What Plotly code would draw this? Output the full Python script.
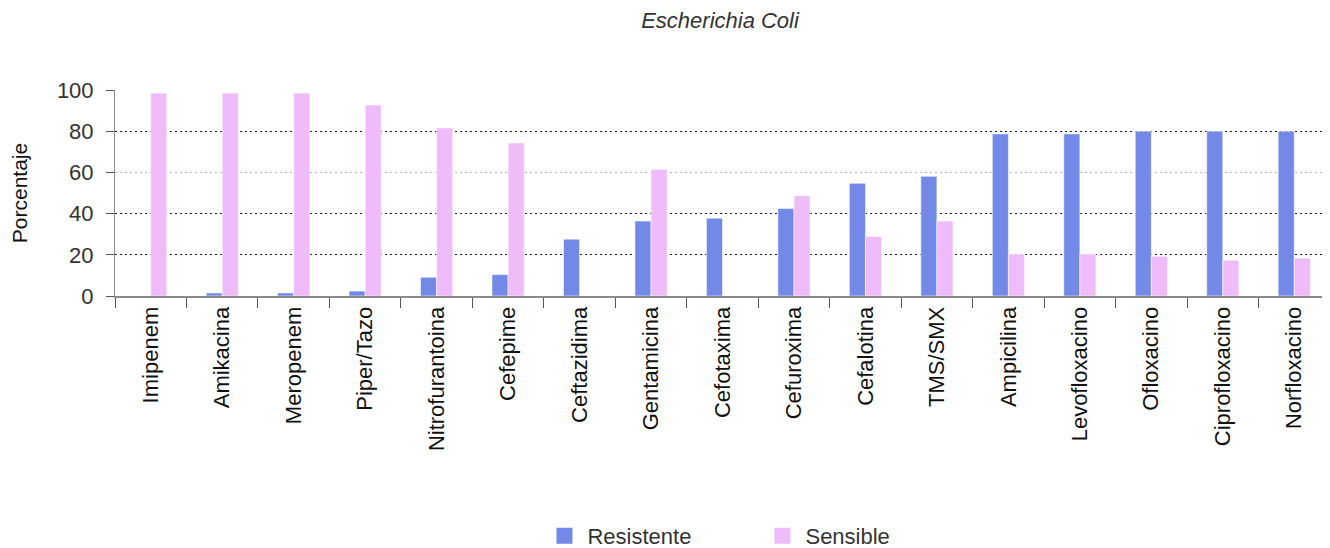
import plotly.graph_objects as go

categories = ["Imipenem", "Amikacina", "Meropenem", "Piper/Tazo", "Nitrofurantoina",
              "Cefepime", "Ceftazidima", "Gentamicina", "Cefotaxima", "Cefuroxima",
              "Cefalotina", "TMS/SMX", "Ampicilina", "Levofloxacino", "Ofloxacino",
              "Ciprofloxacino", "Norfloxacino"]
resistente = [0, 1.5, 1.5, 2.4, 9.1, 10.4, 27.6, 36.4, 37.8, 42.5, 54.7, 58.1,
              78.7, 78.7, 80, 80, 80]
sensible = [98.5, 98.5, 98.5, 92.7, 81.6, 74.3, 0, 61.5, 0, 48.7, 28.9, 36.4,
            20.3, 20.3, 19.3, 17.4, 18.4]
series_names = ["Resistente", "Sensible"]
y_ticks = [0, 20, 40, 60, 80, 100]
dark_grid = [20, 40, 80, 100]

BLUE = "#7289E8"
PINK = "#F0BBFB"
FONT = "Liberation Sans, Arial, sans-serif"
TXT = "#333333"

fig = go.Figure()
for name, vals, col in [(series_names[0], resistente, BLUE), (series_names[1], sensible, PINK)]:
    fig.add_trace(go.Bar(x=categories, y=vals, name=name, showlegend=False,
                         marker=dict(color=col, line=dict(color="rgba(255,255,255,0.55)", width=1))))
# legend-only entries (on the overlay axis so that its dark gridlines get drawn)
for name, col in [(series_names[0], BLUE), (series_names[1], PINK)]:
    fig.add_trace(go.Scatter(x=[None], y=[None], mode="markers", name=name, yaxis="y2",
                             hoverinfo="skip",
                             marker=dict(symbol="square", size=16, color=col)))

# page body has an 8px margin, so the figure is sized/positioned to compensate
fig.update_layout(
    width=1322, height=540,
    margin=dict(l=107, r=0, t=82, b=252, autoexpand=False),
    plot_bgcolor="white", paper_bgcolor="white",
    barmode="group", bargap=0.55, bargroupgap=0,
    font=dict(family=FONT, size=22, color=TXT),
    title=dict(text="<i>Escherichia Coli</i>", x=0.5386, xanchor="center", y=0.977, yanchor="middle",
               font=dict(family=FONT, size=22, color=TXT)),
    legend=dict(orientation="h", x=0.351, xanchor="left", y=-1.165, yanchor="middle",
                entrywidthmode="pixels", entrywidth=167, itemwidth=36,
                font=dict(family=FONT, size=22, color=TXT)),
    showlegend=True,
    yaxis2=dict(overlaying="y", range=[0, 100], tickvals=dark_grid, showticklabels=False,
                showgrid=True, gridcolor="#222222", griddash="2px,3px", gridwidth=1,
                zeroline=False, showline=False, ticks="", automargin=False),
)
fig.update_xaxes(
    type="category", tickangle=-90, tickson="boundaries", ticks="outside", ticklen=10,
    tickcolor="#555555", tickwidth=1, showline=True, linecolor="#8a8a8a", linewidth=2,
    showgrid=False, automargin=False, tickfont=dict(family=FONT, size=22, color="#111111"),
)
fig.update_layout(yaxis=dict(
    range=[0, 100], tickvals=y_ticks, ticks="outside", ticklen=8, tickcolor="#555555",
    showline=True, linecolor="#8a8a8a", linewidth=1, automargin=False,
    showgrid=True, gridcolor="#b8b8b8", griddash="2px,3px", gridwidth=1,
    zeroline=False, ticklabelstandoff=8,
    tickfont=dict(family=FONT, size=22, color=TXT),
    title=dict(text="Porcentaje", standoff=28, font=dict(family=FONT, size=21, color="#111111")),
))

fig.write_html("out.html")
